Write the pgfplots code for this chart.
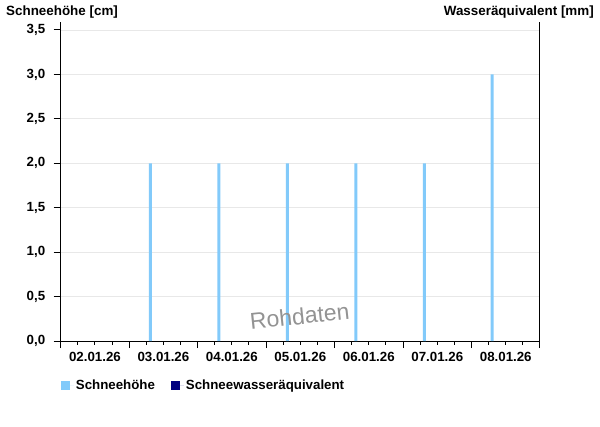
\documentclass[border=0pt]{standalone}
\usepackage{pgfplots}
\pgfplotsset{compat=1.18}
\usepackage{fontspec}
\setmainfont{Liberation Sans}
\definecolor{snow}{RGB}{130,202,250}
\definecolor{swe}{RGB}{0,0,128}
\definecolor{gridc}{RGB}{232,232,232}
\begin{document}
\begin{tikzpicture}[x=1pt,y=1pt]
\path[use as bounding box] (0,0) rectangle (600,426);
\begin{axis}[
  at={(60.7pt,85pt)}, anchor=south west,
  scale only axis, width=479.3pt, height=319pt,
  xmin=0, xmax=7, ymin=0, ymax=3.59,
  axis x line*=bottom, axis y line*=left,
  axis line style={-, line width=1pt},
  xtick={0,1,2,3,4,5,6,7},
  xticklabels={02.01.26,03.01.26,04.01.26,05.01.26,06.01.26,07.01.26,08.01.26},
  x tick label as interval,
  minor x tick num=3,
  ytick={0,0.5,1,1.5,2,2.5,3,3.5},
  ymajorgrids, grid style={gridc, line width=0.8pt},
  tick align=outside, major tick length=7pt, minor tick length=3.5pt,
  tick style={black, line width=1pt},
  ticklabel style={font=\bfseries\fontsize{13.3}{15}\selectfont},
  /pgf/number format/assume math mode=true,
  yticklabel style={xshift=-5pt, /pgf/number format/.cd, fixed, fixed zerofill, precision=1, use comma},
  xticklabel style={yshift=-1pt},
  legend columns=2,
  legend style={draw=none, fill=none, at={(0,-0.14)}, anchor=west,
    font=\bfseries\fontsize{13.3}{15}\selectfont, inner xsep=0pt,
    /tikz/every even column/.append style={column sep=14pt}},
  legend image code/.code={\fill[#1] (0pt,-4.5pt) rectangle (9.5pt,4.5pt); \path (0pt,0pt) -- (13pt,0pt);},
  clip=false,
]
\addplot[ybar, bar width=3pt, fill=snow, draw=none] coordinates {
  (1.31,2) (2.31,2) (3.31,2) (4.31,2) (5.31,2) (6.30,3)
};
\addlegendentry{Schneehöhe}
\addlegendimage{fill=swe, draw=none}
\addlegendentry{Schneewasseräquivalent}
\draw[line width=1pt] (rel axis cs:1,0) -- (rel axis cs:1,1);
\node[rotate=6, fill=none, text=gray!85, draw=none, font=\fontsize{23}{26}\selectfont] at (axis cs:3.49,0.28) {Rohdaten};
\end{axis}
\node[anchor=base west, inner sep=0pt, font=\bfseries\fontsize{13.4}{15}\selectfont] at (6,410.5) {Schneehöhe [cm]};
\node[anchor=base east, inner sep=0pt, font=\bfseries\fontsize{13.4}{15}\selectfont] at (594,410.5) {Wasseräquivalent [mm]};
\end{tikzpicture}
\end{document}
